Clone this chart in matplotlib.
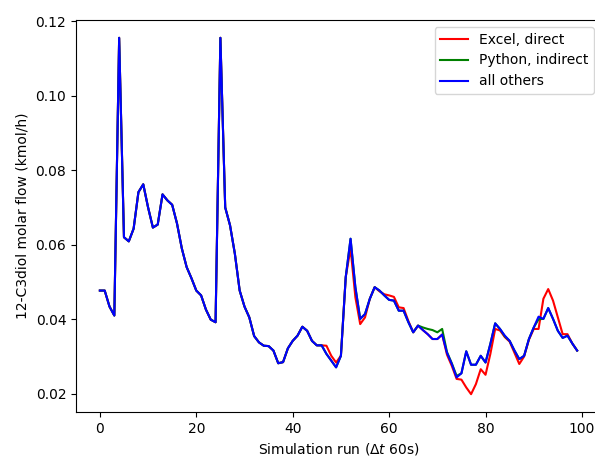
import matplotlib

matplotlib.use("Agg")

import matplotlib.pyplot as plt


runs = list(range(100))

all_others = [
    0.0477, 0.0477, 0.0434, 0.0410, 0.1155, 0.0620, 0.0609, 0.0643, 0.0741, 0.0762,
    0.0700, 0.0646, 0.0654, 0.0735, 0.0719, 0.0707, 0.0657, 0.0590, 0.0540, 0.0510,
    0.0477, 0.0464, 0.0426, 0.0399, 0.0392, 0.1155, 0.0700, 0.0652, 0.0576, 0.0477,
    0.0434, 0.0405, 0.0355, 0.0338, 0.0329, 0.0328, 0.0316, 0.0282, 0.0285, 0.0322,
    0.0342, 0.0356, 0.0380, 0.0369, 0.0342, 0.0330, 0.0330, 0.0307, 0.0289, 0.0271,
    0.0302, 0.0513, 0.0616, 0.0486, 0.0401, 0.0414, 0.0455, 0.0486, 0.0477, 0.0464,
    0.0452, 0.0450, 0.0423, 0.0423, 0.0392, 0.0365, 0.0383, 0.0371, 0.0360, 0.0347,
    0.0347, 0.0359, 0.0310, 0.0280, 0.0244, 0.0255, 0.0314, 0.0278, 0.0278, 0.0302,
    0.0284, 0.0334, 0.0389, 0.0374, 0.0356, 0.0342, 0.0316, 0.0293, 0.0302, 0.0347,
    0.0378, 0.0407, 0.0401, 0.0430, 0.0401, 0.0369, 0.0350, 0.0356, 0.0335, 0.0316,
]

excel_direct = [
    0.0477, 0.0477, 0.0434, 0.0410, 0.1155, 0.0620, 0.0609, 0.0643, 0.0741, 0.0762,
    0.0700, 0.0646, 0.0654, 0.0735, 0.0719, 0.0707, 0.0657, 0.0590, 0.0540, 0.0510,
    0.0477, 0.0464, 0.0426, 0.0399, 0.0392, 0.1155, 0.0700, 0.0652, 0.0576, 0.0477,
    0.0434, 0.0405, 0.0355, 0.0338, 0.0329, 0.0328, 0.0316, 0.0282, 0.0285, 0.0322,
    0.0342, 0.0356, 0.0380, 0.0369, 0.0342, 0.0330, 0.0330, 0.0329, 0.0302, 0.0284,
    0.0302, 0.0513, 0.0590, 0.0459, 0.0387, 0.0405, 0.0455, 0.0486, 0.0475, 0.0467,
    0.0464, 0.0460, 0.0432, 0.0430, 0.0395, 0.0365, 0.0383, 0.0371, 0.0360, 0.0347,
    0.0347, 0.0359, 0.0305, 0.0275, 0.0240, 0.0238, 0.0217, 0.0199, 0.0226, 0.0266,
    0.0251, 0.0307, 0.0374, 0.0370, 0.0352, 0.0340, 0.0310, 0.0280, 0.0300, 0.0345,
    0.0374, 0.0374, 0.0455, 0.0481, 0.0450, 0.0405, 0.0360, 0.0360, 0.0335, 0.0316,
]

python_indirect = [
    0.0477, 0.0477, 0.0434, 0.0410, 0.1155, 0.0620, 0.0609, 0.0643, 0.0741, 0.0762,
    0.0700, 0.0646, 0.0654, 0.0735, 0.0719, 0.0707, 0.0657, 0.0590, 0.0540, 0.0510,
    0.0477, 0.0464, 0.0426, 0.0399, 0.0392, 0.1155, 0.0700, 0.0652, 0.0576, 0.0477,
    0.0434, 0.0405, 0.0355, 0.0338, 0.0329, 0.0328, 0.0316, 0.0282, 0.0285, 0.0322,
    0.0342, 0.0356, 0.0380, 0.0369, 0.0342, 0.0330, 0.0330, 0.0307, 0.0289, 0.0271,
    0.0302, 0.0513, 0.0616, 0.0486, 0.0401, 0.0414, 0.0455, 0.0486, 0.0477, 0.0464,
    0.0452, 0.0450, 0.0423, 0.0423, 0.0392, 0.0365, 0.0383, 0.0378, 0.0374, 0.0371,
    0.0365, 0.0374, 0.0312, 0.0282, 0.0248, 0.0255, 0.0314, 0.0278, 0.0278, 0.0302,
    0.0284, 0.0334, 0.0389, 0.0374, 0.0354, 0.0342, 0.0316, 0.0293, 0.0302, 0.0347,
    0.0378, 0.0400, 0.0401, 0.0430, 0.0401, 0.0369, 0.0350, 0.0356, 0.0335, 0.0316,
]


def main():
    fig = plt.figure(figsize=(5.95, 4.58), dpi=100)

    # the right spine sits just past the crop edge in the reference
    ax = fig.add_axes([76 / 595, 46 / 458, 525 / 595, 392 / 458])
    ax.spines["right"].set_visible(False)

    ax.plot(runs, excel_direct, color="red", label="Excel, direct")
    ax.plot(runs, python_indirect, color="green", label="Python, indirect")
    ax.plot(runs, all_others, color="blue", label="all others")

    ax.set_xlabel(r"Simulation run ($\Delta t$ 60s)")
    ax.set_ylabel("12-C3diol molar flow (kmol/h)")

    ax.legend(loc="upper right")

    fig.savefig("out.png", dpi=100)
    plt.close(fig)


if __name__ == "__main__":
    main()
